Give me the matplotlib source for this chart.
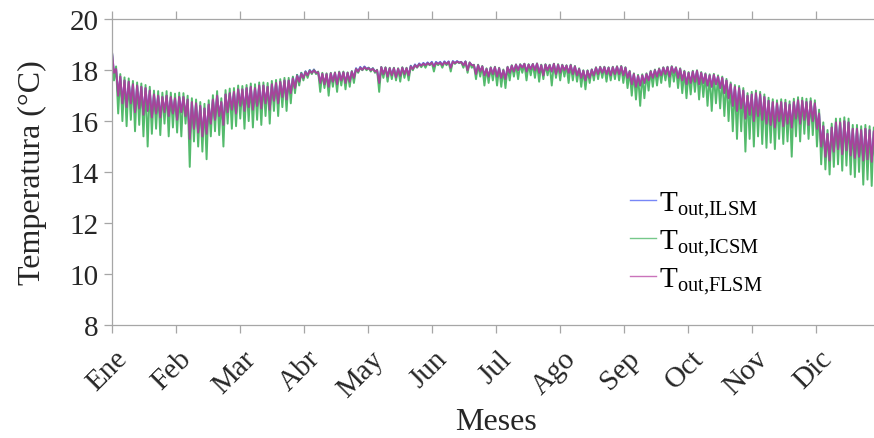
import numpy as np
import matplotlib
matplotlib.use('Agg')
import matplotlib.pyplot as plt
import matplotlib.transforms as mtransforms

plt.rcParams['font.family'] = ['Liberation Serif', 'DejaVu Serif']
plt.rcParams['mathtext.fontset'] = 'custom'
plt.rcParams['mathtext.rm'] = 'Liberation Serif'
plt.rcParams['mathtext.it'] = 'Liberation Serif:italic'

months = ['Ene', 'Feb', 'Mar', 'Abr', 'May', 'Jun',
          'Jul', 'Ago', 'Sep', 'Oct', 'Nov', 'Dic']

# readings every 2 days: daily maximum and minimum (°C)
flsm_max = [18.75, 18.05, 17.75, 17.6, 17.55, 17.45, 17.4, 17.35, 17.3, 17.2,
            17.05, 17.0, 16.95, 17.0, 16.95, 16.9, 16.95, 16.95, 16.85, 16.75,
            16.7, 16.6, 16.5, 16.65, 16.85, 17.0, 16.75, 17.05, 17.1, 17.15,
            17.25, 17.25, 17.3, 17.35, 17.3, 17.4, 17.4, 17.35, 17.45, 17.5,
            17.55, 17.6, 17.6, 17.68, 17.78, 17.86, 17.93, 17.98, 18.0, 17.92,
            17.86, 17.85, 17.88, 17.9, 17.92, 17.92, 17.9, 17.95, 18.05, 18.1,
            18.12, 18.08, 18.06, 18.0, 18.12, 18.1, 18.08, 18.08, 18.06, 18.1,
            18.08, 18.15, 18.2, 18.24, 18.26, 18.28, 18.3, 18.3, 18.3, 18.32,
            18.33, 18.34, 18.34, 18.32, 18.34, 18.3, 18.2, 18.2, 18.15, 18.05,
            18.1, 18.12, 18.08, 18.0, 18.12, 18.18, 18.22, 18.22, 18.25, 18.22,
            18.24, 18.26, 18.2, 18.22, 18.2, 18.25, 18.22, 18.2, 18.18, 18.2,
            18.15, 18.05, 17.98, 17.98, 18.02, 18.1, 18.12, 18.12, 18.1, 18.12,
            18.14, 18.15, 18.1, 17.95, 17.85, 17.78, 17.8, 17.85, 17.95, 18.0,
            18.05, 18.1, 18.12, 18.14, 18.1, 18.05, 17.95, 17.9, 17.95, 17.98,
            17.9, 17.85, 17.8, 17.82, 17.75, 17.7, 17.6, 17.45, 17.35, 17.3,
            17.2, 17.0, 17.05, 17.1, 17.05, 16.95, 16.8, 16.75, 16.7, 16.75,
            16.72, 16.65, 16.75, 16.82, 16.8, 16.75, 16.78, 16.7, 16.3, 15.8,
            15.5, 15.75, 15.95, 15.95, 16.0, 15.95, 15.7, 15.7, 15.65, 15.7,
            15.65, 15.6, 15.55]
flsm_min = [17.9, 17.0, 16.7, 16.55, 16.7, 16.35, 16.5, 16.25, 16.4, 16.15,
            16.3, 16.15, 16.35, 16.2, 16.3, 16.05, 16.35, 16.2, 15.3, 15.7,
            15.55, 15.4, 15.5, 15.9, 16.05, 16.2, 15.85, 16.35, 16.45, 16.3,
            16.6, 16.4, 16.55, 16.45, 16.6, 16.5, 16.7, 16.45, 16.8, 16.7,
            16.95, 16.85, 17.1, 17.3, 17.55, 17.7, 17.8, 17.9, 17.9, 17.5,
            17.45, 17.35, 17.55, 17.45, 17.6, 17.5, 17.55, 17.7, 17.95, 18.02,
            18.05, 18.0, 17.95, 17.5, 17.85, 17.75, 17.8, 17.72, 17.78, 17.85,
            17.8, 18.05, 18.12, 18.18, 18.2, 18.22, 18.15, 18.25, 18.2, 18.25,
            18.1, 18.28, 18.3, 18.2, 18.0, 18.2, 17.85, 17.95, 17.8, 17.75,
            17.85, 17.75, 17.7, 17.65, 17.9, 17.95, 18.0, 18.1, 17.95, 18.05,
            18.0, 17.9, 17.8, 18.0, 17.95, 17.85, 17.9, 18.0, 17.9, 17.85,
            17.8, 17.7, 17.6, 17.7, 17.8, 17.85, 17.9, 17.85, 17.8, 17.85,
            17.85, 17.8, 17.7, 17.45, 17.35, 17.4, 17.5, 17.6, 17.7, 17.75,
            17.8, 17.85, 17.75, 17.9, 17.7, 17.6, 17.45, 17.5, 17.55, 17.45,
            17.5, 17.4, 17.35, 17.45, 17.3, 17.1, 16.9, 16.6, 16.4, 16.5,
            16.1, 16.25, 16.0, 16.2, 16.05, 15.9, 15.85, 15.75, 16.0, 15.8,
            15.9, 15.75, 16.1, 15.9, 16.05, 15.85, 16.0, 15.7, 15.0, 14.6,
            14.45, 14.8, 14.9, 14.7, 14.85, 14.65, 14.55, 14.6, 14.45, 14.5,
            14.4, 14.55, 14.45]

icsm_max = [18.8, 18.15, 17.85, 17.72, 17.68, 17.58, 17.52, 17.48, 17.42, 17.35,
            17.2, 17.18, 17.12, 17.18, 17.12, 17.08, 17.12, 17.1, 17.0, 16.9,
            16.85, 16.75, 16.68, 16.82, 17.02, 17.18, 16.9, 17.22, 17.28, 17.3,
            17.4, 17.38, 17.42, 17.48, 17.45, 17.52, 17.52, 17.5, 17.58, 17.62,
            17.65, 17.7, 17.7, 17.75, 17.82, 17.9, 17.95, 18.0, 18.02, 17.95,
            17.9, 17.88, 17.9, 17.92, 17.95, 17.95, 17.92, 17.97, 18.06, 18.1,
            18.12, 18.1, 18.08, 18.02, 18.13, 18.12, 18.1, 18.1, 18.08, 18.12,
            18.1, 18.16, 18.2, 18.24, 18.26, 18.28, 18.3, 18.3, 18.3, 18.32,
            18.33, 18.34, 18.34, 18.32, 18.34, 18.31, 18.22, 18.22, 18.17, 18.08,
            18.12, 18.14, 18.1, 18.03, 18.14, 18.2, 18.23, 18.24, 18.26, 18.24,
            18.25, 18.27, 18.22, 18.24, 18.22, 18.26, 18.24, 18.22, 18.2, 18.22,
            18.17, 18.08, 18.0, 18.0, 18.04, 18.12, 18.14, 18.14, 18.12, 18.14,
            18.16, 18.17, 18.12, 17.98, 17.88, 17.82, 17.84, 17.88, 17.98, 18.03,
            18.08, 18.12, 18.14, 18.16, 18.12, 18.08, 17.98, 17.93, 17.98, 18.0,
            17.93, 17.88, 17.84, 17.86, 17.8, 17.75, 17.66, 17.52, 17.42, 17.38,
            17.3, 17.1, 17.15, 17.2, 17.15, 17.05, 16.92, 16.86, 16.82, 16.86,
            16.84, 16.78, 16.88, 16.94, 16.92, 16.88, 16.9, 16.82, 16.45, 15.95,
            15.65, 15.9, 16.1, 16.1, 16.15, 16.1, 15.85, 15.85, 15.8, 15.85,
            15.8, 15.75, 15.7]
icsm_min = [17.6, 16.3, 16.0, 15.8, 16.05, 15.6, 15.85, 15.4, 15.0, 15.5,
            15.7, 15.45, 15.9, 15.4, 15.75, 15.55, 15.4, 15.9, 14.2, 15.2,
            15.0, 14.8, 14.5, 15.4, 15.6, 15.45, 15.0, 15.9, 15.7, 15.8,
            16.1, 15.7, 16.0, 15.75, 16.05, 15.85, 16.2, 15.9, 16.4, 16.2,
            16.55, 16.4, 16.7, 17.1, 17.4, 17.6, 17.7, 17.85, 17.85, 17.15,
            17.3, 17.0, 17.35, 17.15, 17.4, 17.25, 17.35, 17.5, 17.9, 18.0,
            18.0, 17.95, 17.9, 17.15, 17.7, 17.55, 17.65, 17.6, 17.55, 17.7,
            17.6, 18.0, 18.1, 18.12, 18.1, 18.2, 17.95, 18.2, 18.1, 18.2,
            17.95, 18.25, 18.28, 18.1, 17.9, 18.1, 17.65, 17.75, 17.4, 17.5,
            17.6, 17.4, 17.35, 17.3, 17.6, 17.75, 17.65, 17.9, 17.6, 17.8,
            17.7, 17.55, 17.65, 17.8, 17.4, 17.7, 17.6, 17.75, 17.5, 17.6,
            17.55, 17.35, 17.25, 17.5, 17.6, 17.65, 17.7, 17.55, 17.6, 17.65,
            17.6, 17.5, 17.3, 17.0, 16.85, 16.6, 16.9, 17.2, 17.35, 17.4,
            17.5, 17.6, 17.35, 17.55, 17.3, 17.1, 16.9, 17.05, 17.15, 16.85,
            16.95, 16.6, 16.4, 16.7, 16.5, 16.2, 16.0, 15.6, 15.3, 15.6,
            14.8, 15.3, 15.0, 15.4, 15.1, 14.95, 15.15, 14.9, 15.3, 15.1,
            15.2, 14.6, 15.4, 15.2, 15.5, 15.3, 15.45, 15.0, 14.3, 14.1,
            13.9, 14.2, 14.3, 14.05, 14.25, 13.9, 13.8, 14.0, 13.5, 13.7,
            13.45, 13.7, 13.4]

# ILSM sits under FLSM almost everywhere; slightly higher in the calm spells
ilsm_max = [18.75, 18.05, 17.75, 17.6, 17.55, 17.45, 17.4, 17.35, 17.3, 17.2,
            17.05, 17.0, 16.95, 17.0, 16.95, 16.9, 16.95, 16.95, 16.85, 16.75,
            16.7, 16.6, 16.5, 16.65, 16.85, 17.0, 16.75, 17.05, 17.1, 17.15,
            17.25, 17.25, 17.3, 17.35, 17.3, 17.4, 17.4, 17.35, 17.45, 17.5,
            17.55, 17.6, 17.6, 17.72, 17.82, 17.9, 17.96, 18.01, 18.03, 17.92,
            17.86, 17.85, 17.88, 17.9, 17.92, 17.92, 17.9, 17.95, 18.08, 18.13,
            18.15, 18.1, 18.08, 18.0, 18.12, 18.1, 18.08, 18.08, 18.06, 18.1,
            18.08, 18.18, 18.23, 18.27, 18.29, 18.31, 18.33, 18.33, 18.33, 18.35,
            18.35, 18.36, 18.36, 18.33, 18.35, 18.3, 18.2, 18.2, 18.15, 18.05,
            18.1, 18.12, 18.08, 18.0, 18.12, 18.18, 18.22, 18.22, 18.25, 18.22,
            18.24, 18.26, 18.2, 18.22, 18.2, 18.25, 18.22, 18.2, 18.18, 18.2,
            18.15, 18.05, 17.98, 17.98, 18.02, 18.1, 18.12, 18.12, 18.1, 18.12,
            18.14, 18.15, 18.1, 17.95, 17.85, 17.78, 17.8, 17.85, 17.95, 18.0,
            18.05, 18.1, 18.12, 18.14, 18.1, 18.05, 17.95, 17.9, 17.95, 17.98,
            17.9, 17.85, 17.8, 17.82, 17.75, 17.7, 17.6, 17.45, 17.35, 17.3,
            17.2, 17.0, 17.05, 17.1, 17.05, 16.95, 16.8, 16.75, 16.7, 16.75,
            16.72, 16.65, 16.75, 16.82, 16.8, 16.75, 16.78, 16.7, 16.3, 15.8,
            15.5, 15.75, 15.95, 15.95, 16.0, 15.95, 15.7, 15.7, 15.65, 15.7,
            15.65, 15.6, 15.55]
ilsm_min = flsm_min

labels = [r'$\mathregular{T_{out{,}ILSM}}$', r'$\mathregular{T_{out{,}ICSM}}$',
          r'$\mathregular{T_{out{,}FLSM}}$']
colors = ['#3d55f5', '#3cb158', '#b4389f']


def zigzag(hi, lo):
    # daily maximum at the start of each 2-day slot, minimum a day later (hours)
    k = np.arange(len(hi))
    x = np.column_stack((48 * k, 48 * k + 24)).ravel()
    y = np.column_stack((hi, lo)).ravel()
    return x, y


fig = plt.figure(figsize=(8.74, 4.39), dpi=100)
ax = fig.add_axes([0.128, 0.2585, 0.879, 0.695])

series = [(ilsm_max, ilsm_min), (icsm_max, icsm_min), (flsm_max, flsm_min)]
for (hi, lo), c, lab in zip(series, colors, labels):
    x, y = zigzag(hi, lo)
    ax.plot(x, y, color=c, lw=1.4, alpha=0.88, label=lab)

ax.set_xlim(0, 8760)
ax.set_ylim(8, 20)
ax.set_yticks(np.arange(8, 21, 2))
month_ticks = np.arange(12) * 730
ax.set_xticks(month_ticks)
ax.set_xticklabels([])

# rotated month names, anchored right of and below each tick (MATLAB style)
base = ax.get_xaxis_transform()
shift = mtransforms.ScaledTranslation(11.5 / 100, -30 / 100, fig.dpi_scale_trans)
for xt, m in zip(month_ticks, months):
    ax.text(xt, 0, m, transform=base + shift, rotation=45, ha='right',
            va='center', rotation_mode='anchor', fontsize=21, color='#262626')

for s in ax.spines.values():
    s.set_color('#a6a6a6')
    s.set_linewidth(0.9)
ax.tick_params(direction='out', length=6, width=0.9, color='#a6a6a6',
               labelsize=21, labelcolor='#262626', top=True, right=True)
ax.set_xlabel('Meses', fontsize=23, color='#262626')
ax.xaxis.set_label_coords(0.5, -0.27)
ax.set_ylabel('Temperatura (°C)', fontsize=23, color='#262626', labelpad=16)

leg = ax.legend(loc='upper left', bbox_to_anchor=(0.655, 0.49), frameon=False,
                fontsize=21, handlelength=0.9, handletextpad=0.1,
                labelspacing=0.25, borderpad=0)
for line in leg.get_lines():
    line.set_linewidth(1.0)
    line.set_alpha(0.7)

fig.savefig('out.png', dpi=100)
